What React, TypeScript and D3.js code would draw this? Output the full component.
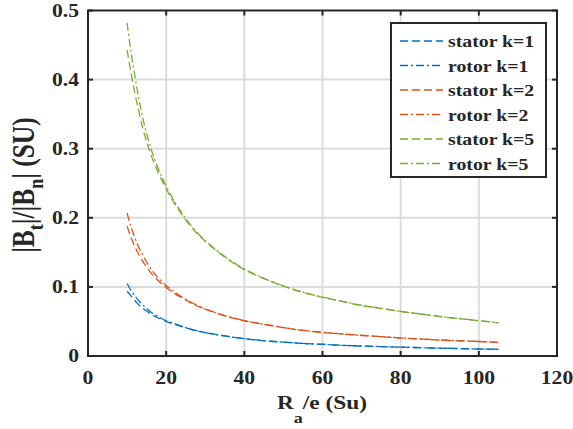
// Chart: |Bt|/|Bn| versus Ra/e — revision eight (stretched serif text)
import React from "react";
import * as d3 from "d3";

const xValues = [10, 11, 12, 13, 14, 15, 16, 18, 20, 22, 25, 28, 30, 35, 40, 45, 50, 55, 60, 65, 70, 75, 80, 85, 90, 95, 100, 105];

const statorK1 = [0.094, 0.087, 0.080, 0.074, 0.069, 0.065, 0.061, 0.055, 0.050, 0.046, 0.041, 0.036, 0.034, 0.029, 0.025, 0.022, 0.020, 0.018, 0.017, 0.0155, 0.0144, 0.0136, 0.0128, 0.0120, 0.0113, 0.0107, 0.0101, 0.0097];
const rotorK1 = [0.105, 0.095, 0.087, 0.080, 0.074, 0.069, 0.064, 0.057, 0.051, 0.047, 0.041, 0.0365, 0.034, 0.029, 0.0252, 0.0222, 0.0201, 0.0182, 0.0168, 0.0156, 0.0145, 0.0136, 0.0128, 0.0120, 0.0114, 0.0108, 0.0102, 0.0098];
const statorK2 = [0.188, 0.172, 0.158, 0.147, 0.137, 0.129, 0.121, 0.109, 0.099, 0.091, 0.081, 0.072, 0.068, 0.058, 0.051, 0.046, 0.041, 0.037, 0.034, 0.032, 0.030, 0.028, 0.026, 0.0245, 0.023, 0.022, 0.021, 0.0195];
const rotorK2 = [0.207, 0.187, 0.171, 0.157, 0.146, 0.136, 0.127, 0.113, 0.102, 0.093, 0.082, 0.073, 0.068, 0.0585, 0.0512, 0.0458, 0.0412, 0.0372, 0.0342, 0.0318, 0.0297, 0.0279, 0.0262, 0.0247, 0.0232, 0.0221, 0.0210, 0.0196];
const statorK5 = [0.443, 0.410, 0.380, 0.354, 0.330, 0.310, 0.293, 0.265, 0.242, 0.222, 0.197, 0.177, 0.166, 0.143, 0.125, 0.112, 0.101, 0.092, 0.085, 0.079, 0.073, 0.069, 0.0645, 0.061, 0.057, 0.054, 0.051, 0.048];
const rotorK5 = [0.482, 0.440, 0.405, 0.373, 0.345, 0.322, 0.302, 0.271, 0.246, 0.225, 0.199, 0.178, 0.167, 0.144, 0.126, 0.1125, 0.1015, 0.0925, 0.0852, 0.0792, 0.0735, 0.0688, 0.0645, 0.0608, 0.0572, 0.0542, 0.0512, 0.0482];

const seriesNames = ["stator k=1", "rotor k=1", "stator k=2", "rotor k=2", "stator k=5", "rotor k=5"];
const seriesValues = [statorK1, rotorK1, statorK2, rotorK2, statorK5, rotorK5];
const seriesColors = ["#0072BD", "#0072BD", "#D95319", "#D95319", "#77AC30", "#77AC30"];
const seriesDash = ["8,4", "8,3,2,3", "8,4", "8,3,2,3", "8,4", "8,3,2,3"];

const xTicks = [0, 20, 40, 60, 80, 100, 120];
const yTicks = [0, 0.1, 0.2, 0.3, 0.4, 0.5];

const W = 573;
const H = 429;
const left = 88;
const right = 557;
const top = 10.5;
const bottom = 356;

const FONT = "Liberation Serif";
const SX = 1.2;
const axisColor = "#262626";

export default function App() {
  const x = d3.scaleLinear().domain([0, 120]).range([left, right]);
  const y = d3.scaleLinear().domain([0, 0.5]).range([bottom, top]);
  const line = d3
    .line<[number, number]>()
    .x((d) => x(d[0]))
    .y((d) => y(d[1]))
    .curve(d3.curveMonotoneX);

  const tickLen = 5;
  const legX = 391;
  const legY = 23;
  const legW = 155;
  const legH = 154;
  const rowH = 24.5;

  return (
    <svg width={W} height={H} style={{ position: "absolute", left: 0, top: 0 }}>
      <rect x={0} y={0} width={W} height={H} fill="#fff" />
      {xTicks.slice(1, -1).map((t) => (
        <line key={"gx" + t} x1={x(t)} x2={x(t)} y1={top} y2={bottom} stroke="#dcdcdc" strokeWidth={2} />
      ))}
      {yTicks.slice(1, -1).map((t) => (
        <line key={"gy" + t} x1={left} x2={right} y1={y(t)} y2={y(t)} stroke="#dcdcdc" strokeWidth={2} />
      ))}
      {seriesValues.map((vals, i) => (
        <path
          key={"s" + i}
          d={line(xValues.map((xv, j) => [xv, vals[j]] as [number, number])) || ""}
          fill="none"
          stroke={seriesColors[i]}
          strokeWidth={1.3}
          strokeDasharray={seriesDash[i]}
        />
      ))}
      {xTicks.map((t) => (
        <g key={"tx" + t}>
          <line x1={x(t)} x2={x(t)} y1={bottom} y2={bottom - tickLen} stroke={axisColor} strokeWidth={2} />
          <line x1={x(t)} x2={x(t)} y1={top} y2={top + tickLen} stroke={axisColor} strokeWidth={2} />
          <g transform={`translate(${x(t)},384) scale(${SX},1)`}>
            <text x={0} y={0} textAnchor="middle" fontSize={18} fontWeight="bold" fill={axisColor} style={{ fontFamily: FONT }}>
              {String(t)}
            </text>
          </g>
        </g>
      ))}
      {yTicks.map((t) => (
        <g key={"ty" + t}>
          <line x1={left} x2={left + tickLen} y1={y(t)} y2={y(t)} stroke={axisColor} strokeWidth={2} />
          <line x1={right} x2={right - tickLen} y1={y(t)} y2={y(t)} stroke={axisColor} strokeWidth={2} />
          <g transform={`translate(79,${y(t) + 6}) scale(${SX},1)`}>
            <text x={0} y={0} textAnchor="end" fontSize={18} fontWeight="bold" fill={axisColor} style={{ fontFamily: FONT }}>
              {t === 0 ? "0" : t.toFixed(1)}
            </text>
          </g>
        </g>
      ))}
      <rect x={left} y={top} width={right - left} height={bottom - top} fill="none" stroke={axisColor} strokeWidth={2} />
      <g transform={`translate(322,409) scale(${SX},1)`}>
        <text x={0} y={0} textAnchor="middle" fontSize={19.5} fontWeight="bold" fill={axisColor} style={{ fontFamily: FONT }}>
          R<tspan fontSize={15} dy={14}>a</tspan>
          <tspan dy={-14}>/e (Su)</tspan>
        </text>
      </g>
      <g transform={`translate(33.5,185) scale(${SX},1) rotate(-90)`}>
        <text x={0} y={0} textAnchor="middle" fontSize={25.5} fontWeight="bold" fill={axisColor} style={{ fontFamily: FONT }}>
          |B<tspan fontSize={18} dy={7.5}>t</tspan>
          <tspan dy={-7.5}>|/|B</tspan>
          <tspan fontSize={18} dy={7.5}>n</tspan>
          <tspan dy={-7.5}>| (SU)</tspan>
        </text>
      </g>
      <rect x={legX} y={legY} width={legW} height={legH} fill="#fff" stroke={axisColor} strokeWidth={2} />
      {seriesNames.map((name, i) => {
        const cy = legY + 18 + i * rowH;
        return (
          <g key={"l" + i}>
            <line x1={legX + 9} x2={legX + 52} y1={cy} y2={cy} stroke={seriesColors[i]} strokeWidth={1.3} strokeDasharray={seriesDash[i]} />
            <g transform={`translate(${legX + 57},${cy + 6}) scale(${SX},1)`}>
              <text x={0} y={0} fontSize={16.5} fontWeight="bold" fill={axisColor} style={{ fontFamily: FONT }}>
                {name}
              </text>
            </g>
          </g>
        );
      })}
    </svg>
  );
}
